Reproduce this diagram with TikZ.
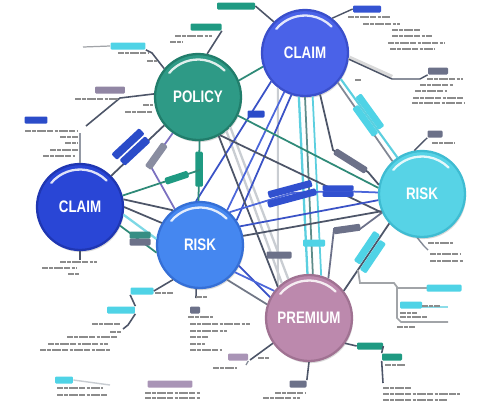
\documentclass[tikz,border=0pt]{standalone}
\usepackage{fontspec}
\newfontfamily\labfont[FakeStretch=0.8]{Liberation Sans}
\usetikzlibrary{calc}
\definecolor{hubCT}{HTML}{4A62E8}
\definecolor{hubCTd}{HTML}{3A4FCB}
\definecolor{hubPO}{HTML}{2E9A86}
\definecolor{hubPOd}{HTML}{217D6B}
\definecolor{hubCL}{HTML}{2946D6}
\definecolor{hubCLd}{HTML}{1F36B2}
\definecolor{hubRM}{HTML}{4587F0}
\definecolor{hubRMd}{HTML}{356FD6}
\definecolor{hubRR}{HTML}{57D3E6}
\definecolor{hubRRd}{HTML}{3FBCD2}
\definecolor{hubPR}{HTML}{BC89AD}
\definecolor{hubPRd}{HTML}{A07292}
\definecolor{lnBlue}{HTML}{3A52C6}
\definecolor{lnBlue2}{HTML}{4B66DA}
\definecolor{lnSlate}{HTML}{4D5568}
\definecolor{lnTeal}{HTML}{2F8A78}
\definecolor{lnCyan}{HTML}{5CCFDF}
\definecolor{lnLight}{HTML}{C9CDD2}
\definecolor{lnPurp}{HTML}{5A4CB0}
\definecolor{lnGT}{HTML}{5E8C8A}
\definecolor{tgBlue}{HTML}{2B4CC9}
\definecolor{tgCyan}{HTML}{4FD3E6}
\definecolor{tgSlate}{HTML}{6C7189}
\definecolor{tgTeal}{HTML}{1F9A82}
\definecolor{tgPurp}{HTML}{A994B6}
\newcommand\wl[1]{}
\newcommand\scr[3]{\draw[txt] (#1,#3) -- (#2,#3);}
\newcommand\shine[1]{\draw[white,line width=1.3pt,line cap=round,opacity=0.85] ($(#1.center)+(140:0.75cm)$) arc[start angle=140,end angle=45,radius=0.75cm];}
\begin{document}
\begin{tikzpicture}[x=0.02cm,y=-0.02cm,
 cn/.style={line width=1pt},
 tag/.style={rounded corners=0.7pt, inner sep=0pt, minimum height=0.14cm, font=\tiny},
 txt/.style={line width=0.8pt, draw=black!45, dash pattern=on 3.5pt off 0.7pt on 2pt off 0.7pt on 5pt off 0.7pt},
 hub/.style={circle, minimum size=1.72cm, inner sep=0pt, line width=1.3pt, text=white,
   font=\labfont\bfseries\fontsize{9.5}{10}\selectfont,
   preaction={fill=black, opacity=0.15, transform canvas={shift={(0.6pt,-1.2pt)}}}}]
\fill[white] (0,0) rectangle (500,400);
\useasboundingbox (0,0) rectangle (500,400);

% hubs
\node[hub, fill=hubCT, draw=hubCTd] (ct) at (305,53) {CLAIM};
\node[hub, fill=hubPO, draw=hubPOd] (po) at (198,97) {POLICY};
\node[hub, fill=hubCL, draw=hubCLd] (cl) at (80,207) {CLAIM};
\node[hub, fill=hubRM, draw=hubRMd] (rm) at (200,245) {RISK};
\node[hub, fill=hubRR, draw=hubRRd] (rr) at (422,194) {RISK};
\node[hub, fill=hubPR, draw=hubPRd] (pr) at (309,318) {PREMIUM};
\foreach \h in {ct,po,cl,rm,rr,pr}{\shine{\h}}

\coordinate (jA) at (200,170);

% light background lines
\draw[cn, lnLight, line width=1.3pt] (po.-50) -- (pr.128);
\draw[cn, lnLight, line width=1.3pt] (po.-43) -- (pr.118);
\draw[cn, lnLight, line width=1.1pt] (ct.-128) -- (pr.135);

% ct connectors
\draw[cn, lnTeal] (po.22) -- (ct.198);
\draw[cn, lnBlue] (ct.-140) -- (rm.95);
\node[tag, fill=tgBlue, minimum width=0.34cm] at (256,114) {};
\draw[cn, lnBlue2] (ct.-118) -- (rm.52);
\draw[cn, lnBlue] (ct.-108) -- (rm.34);
\draw[cn, lnCyan, line width=1.3pt] (ct.-98) -- (pr.92);
\draw[cn, lnGT] (ct.-90) -- (pr.85);
\draw[cn, lnCyan] (ct.-80) -- (pr.74);
\node[tag, fill=tgCyan, minimum width=0.44cm] at (314,243) {};
\draw[cn, lnSlate!70] (ct.-42) -- (rr.132);
\draw[cn, lnCyan, line width=1.2pt] (ct.-36) -- (rr.124)
  node[pos=.45, sloped, tag, fill=tgCyan, minimum width=0.8cm, yshift=2.6pt] {}
  node[pos=.5, sloped, tag, fill=tgCyan, minimum width=0.7cm, yshift=-2.6pt] {};
\draw[cn, lnSlate] (ct.-70) -- (333,150) -- node[sloped, tag, fill=tgSlate, minimum width=0.74cm] {} (368,172) -- (rr.168);

% po connectors
\draw[cn, lnTeal] (po.-25) -- (rr.172);
\draw[cn, lnSlate] (po.-60) -- (rr.205);
\draw[cn, lnTeal] (po.-88) -- (rm.92)
  node[pos=.47, tag, fill=tgTeal, rotate=90, minimum width=0.7cm, minimum height=0.15cm] {};
\draw[cn, lnPurp!80] (po.-125) -- node[pos=.72, sloped, tag, fill=tgSlate!80, minimum width=0.58cm, minimum height=0.15cm] {} (150,165) -- (rm.125);
\draw[cn, lnSlate] (po.-140) -- (cl.45);
\node[tag, fill=tgBlue, rotate=43, minimum width=0.76cm, minimum height=0.16cm] at (128,144) {};
\node[tag, fill=tgBlue, rotate=43, minimum width=0.7cm, minimum height=0.16cm] at (135,151) {};
\draw[cn, lnSlate] (po.-62) -- (pr.135);
\node[tag, fill=tgSlate, minimum width=0.5cm] at (279,255) {};

% cl connectors
\draw[cn, lnTeal] (cl.15) -- (jA) node[pos=.7, sloped, tag, fill=tgTeal, minimum width=0.48cm] {};
\draw[cn, lnSlate] (cl.10) -- (rm.128);
\draw[cn, lnSlate] (cl.0) -- (rm.150);
\draw[cn, lnCyan!80, line width=1.3pt] (cl.-10) -- (rm.172);
\draw[cn, lnTeal] (cl.-25) -- (rm.-170);
\node[tag, fill=tgTeal!70!tgSlate, minimum width=0.42cm] at (140,235) {};
\node[tag, fill=tgSlate, minimum width=0.42cm] at (140,242) {};

% rm connectors
\draw[cn, lnBlue2] (rm.48) -- (292,193) -- (338,191) -- (rr.178);
\node[tag, fill=tgBlue!80!hubCT, rotate=15, minimum width=0.9cm] at (290,189) {};
\node[tag, fill=tgBlue!80!hubCT, rotate=15, minimum width=1.0cm] at (292,198) {};
\node[tag, fill=tgBlue!80!hubCT, minimum width=0.62cm, minimum height=0.11cm] at (338,188) {};
\node[tag, fill=tgBlue!80!hubCT, minimum width=0.62cm, minimum height=0.11cm] at (338,194) {};
\draw[cn, lnSlate] (rm.12) -- (rr.203);
\draw[cn, lnBlue] (rm.25) -- (rr.188);
\draw[cn, lnBlue] (rm.-28) -- (pr.152);
\draw[cn, lnBlue2] (rm.-38) -- (pr.142);
\draw[cn, lnSlate!80] (rm.-52) -- (pr.162);

% rr connectors
\draw[cn, lnSlate] (rr.-138) -- (pr.38)
  node[pos=.4, sloped, tag, fill=tgCyan, minimum width=0.72cm, minimum height=0.15cm, yshift=2.8pt] {}
  node[pos=.45, sloped, tag, fill=tgCyan, minimum width=0.72cm, minimum height=0.15cm, yshift=-2.8pt] {};
\draw[cn, tgSlate] (rr.205) -- (360,229) -- (334,229) -- (pr.64);
\node[tag, fill=tgSlate, rotate=8, minimum width=0.54cm] at (347,229) {};

% ---------- peripheral annotations ----------
% CLAIM top
\node[tag, fill=tgBlue!70!hubCT, minimum width=0.56cm] (p1) at (367,9) {};
\draw[cn, lnSlate, line width=0.8pt] (ct.52) -- (p1.west);
\scr{348}{390}{17}\scr{363}{400}{24}\scr{392}{420}{30}\scr{392}{432}{36}\scr{388}{445}{43}\scr{390}{435}{49}
\node[tag, fill=tgSlate, minimum width=0.4cm] (p2) at (438,71) {};
\draw[line width=2.5pt, black!15] (ct.-6) -- (392,77);
\draw[cn, lnSlate, line width=0.8pt] (ct.-8) -- (392,79) -- (420,79) -- (p2.south west);
\scr{427}{463}{79}\scr{420}{453}{85}\scr{415}{447}{91}\scr{413}{463}{98}\scr{412}{465}{103}\scr{355}{362}{80}
% RISK right
\node[tag, fill=tgSlate, minimum width=0.3cm] (p3) at (435,134) {};
\draw[cn, lnSlate, line width=0.8pt] (rr.100) -- (p3.south west);
\scr{432}{455}{143}
\draw[cn, lnSlate!70, line width=0.8pt] (rr.-96) -- (424,246) -- (428,250);
\scr{428}{453}{243}\scr{430}{460}{254}\scr{430}{463}{261}
\draw[lnLight!80!black, line width=1pt] (358,270) -- (360,283) -- (394,283) -- (397,287) -- (397,318) -- (401,322) -- (448,322);
\draw[lnLight!80!black, line width=0.8pt] (397,288) -- (427,288);
\draw[lnCyan!70, line width=0.8pt] (411,307) -- (448,307);
\node[tag, fill=tgCyan, minimum width=0.7cm] (p4) at (444,288) {};
\node[tag, fill=tgCyan, minimum width=0.44cm] (p5) at (411,305) {};
\scr{422}{440}{306}\scr{400}{417}{313}\scr{400}{427}{317}\scr{397}{415}{327}
% PREMIUM
\node[tag, fill=tgTeal, minimum width=0.52cm] (p6) at (370,346) {};
\node[tag, fill=tgTeal, minimum width=0.4cm] (p7) at (392,357) {};
\draw[cn, lnSlate, line width=0.9pt] (pr.-35) -- (p6.west);
\draw[cn, lnSlate, line width=0.9pt] (p6.east) -- (p7.north west);
\draw[cn, lnSlate, line width=0.9pt] (p7.south west) -- (383,383);
\scr{385}{405}{365}\scr{383}{412}{388}\scr{383}{460}{394}\scr{383}{447}{400}
\node[tag, fill=tgSlate, minimum width=0.34cm] (p8) at (298,384) {};
\draw[cn, lnSlate, line width=0.9pt] (pr.-90) -- (p8.north east);
\scr{275}{305}{393}\scr{263}{300}{398}
\draw[cn, lnSlate, line width=0.9pt] (pr.-145) -- (250,360);
\scr{258}{270}{358}
% RISK middle
\node[tag, fill=tgCyan, minimum width=0.46cm] (p9) at (142,291) {};
\node[tag, fill=tgCyan, minimum width=0.56cm] (p10) at (121,310) {};
\draw[cn, lnSlate, line width=0.9pt] (rm.-128) -- (p9.east);
\draw[cn, lnSlate, line width=0.9pt] (p9.south west) -- (p10.north east);
\draw[cn, lnSlate, line width=0.9pt] (p10.south east) -- (128,325) -- (123,329);
\scr{155}{173}{293}\scr{92}{120}{324}\scr{110}{122}{332}\scr{67}{117}{337}\scr{48}{108}{344}\scr{40}{110}{350}
\node[tag, fill=tgSlate, minimum width=0.2cm] (p11) at (195,310) {};
\draw[cn, lnSlate, line width=0.9pt] (rm.-95) -- (196,298);
\scr{196}{208}{297}\scr{188}{213}{317}\scr{190}{250}{324}\scr{190}{227}{331}\scr{190}{208}{337}\scr{190}{205}{344}\scr{190}{222}{350}
\node[tag, fill=tgPurp, minimum width=0.4cm] (p12) at (238,357) {};
\draw[lnSlate!70, line width=0.7pt] (p12.south east) -- (246,365);
\scr{213}{237}{368}
\node[tag, fill=tgCyan, minimum width=0.36cm] (p13) at (64,380) {};
\draw[lnLight, line width=0.8pt] (p13.east) -- (110,385);
\scr{57}{103}{388}\scr{57}{107}{395}
\node[tag, fill=tgPurp, minimum width=0.9cm] (p14) at (170,384) {};
\scr{145}{200}{393}\scr{145}{200}{398}
% CLAIM left
\node[tag, fill=tgBlue, minimum width=0.46cm] (p15) at (36,120) {};
\draw[lnSlate!60, line width=0.8pt] (cl.90) -- (80,133);
\scr{25}{78}{131}\scr{60}{78}{137}\scr{65}{78}{143}\scr{50}{78}{150}\scr{43}{75}{156}
\draw[cn, lnSlate, line width=0.9pt] (cl.-90) -- (80,260);
\scr{60}{97}{262}\scr{42}{77}{268}\scr{68}{80}{274}
% POLICY
\node[tag, fill=tgTeal, minimum width=0.76cm] (p16) at (236,6) {};
\draw[cn, lnSlate, line width=0.9pt] (p16.east) -- (ct.135);
\node[tag, fill=tgTeal, minimum width=0.62cm] (p17) at (206,27) {};
\draw[cn, lnSlate, line width=0.9pt] (p17.south east) -- (po.78);
\scr{175}{212}{36}\scr{170}{183}{42}
\node[tag, fill=tgCyan, minimum width=0.7cm] (p18) at (128,46) {};
\draw[lnLight!80!black, line width=0.7pt] (p18.west) -- (83,47);
\draw[cn, lnSlate, line width=0.9pt] (po.140) -- (152,53) -- (p18.south east);
\scr{118}{148}{53}\scr{147}{157}{61}
\node[tag, fill=tgPurp!60!tgSlate, minimum width=0.6cm] (p19) at (110,90) {};
\draw[cn, lnSlate, line width=0.9pt] (po.176) -- (120,98) -- (86,126);
\scr{75}{118}{99}\scr{125}{152}{112}\scr{143}{153}{105}
\end{tikzpicture}
\end{document}
